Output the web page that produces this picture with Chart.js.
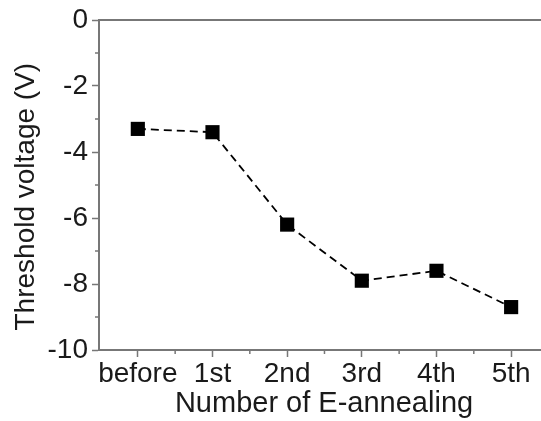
<!DOCTYPE html>
<html lang="en">
<head>
  <meta charset="UTF-8" />
  <title>Threshold voltage vs E-annealing</title>
  <script src="https://cdn.jsdelivr.net/npm/chart.js"></script>
  <style>
    html, body {
      margin: 0;
      padding: 0;
      background: #fff;
      overflow: hidden;
    }
    #wrap {
      width: 541px;
      height: 421px;
    }
  </style>
</head>
<body>
  <div id="wrap"><canvas id="chart" width="541" height="421"></canvas></div>

  <script>
    const steps = ["before", "1st", "2nd", "3rd", "4th", "5th"];
    const voltage = [-3.3, -3.4, -6.2, -7.9, -7.6, -8.7];
    const yTicks = [0, -2, -4, -6, -8, -10];

    const axisColor = "#777";
    const textColor = "#1a1a1a";
    const font = "'Liberation Sans', Arial, sans-serif";

    // minor ticks halfway between the major ones, plus the top frame line
    const frameTicks = {
      id: "frameTicks",
      afterDraw(chart) {
        const ctx = chart.ctx;
        const area = chart.chartArea;
        const x = chart.scales.x;
        const y = chart.scales.y;
        ctx.save();
        ctx.strokeStyle = axisColor;
        ctx.lineWidth = 1.5;
        ctx.beginPath();
        for (let i = 0; i < steps.length; i++) {
          const px = x.getPixelForValue(i + 0.5);
          if (px < area.right) {
            ctx.moveTo(px, area.bottom);
            ctx.lineTo(px, area.bottom + 4);
          }
        }
        for (let v = -1; v > -10; v -= 2) {
          const py = y.getPixelForValue(v);
          ctx.moveTo(area.left, py);
          ctx.lineTo(area.left - 4, py);
        }
        ctx.stroke();
        ctx.lineWidth = 2;
        ctx.beginPath();
        ctx.moveTo(area.left, area.top);
        ctx.lineTo(area.right, area.top);
        ctx.stroke();
        ctx.restore();
      }
    };

    new Chart(document.getElementById("chart"), {
      type: "line",
      data: {
        datasets: [{
          data: voltage.map((v, i) => ({ x: i, y: v })),
          borderColor: "#000",
          borderWidth: 1.8,
          borderDash: [8, 5],
          backgroundColor: "#000",
          pointStyle: "rect",
          pointRadius: 10,
          pointBorderWidth: 0,
          tension: 0
        }]
      },
      options: {
        responsive: false,
        animation: false,
        layout: { autoPadding: false, padding: { top: 20, right: 0, left: 0, bottom: 0 } },
        plugins: {
          legend: { display: false },
          tooltip: { enabled: false }
        },
        scales: {
          x: {
            type: "linear",
            min: -0.52,
            max: 5.4,
            afterBuildTicks: (scale) => {
              scale.ticks = steps.map((s, i) => ({ value: i }));
            },
            afterFit: (scale) => {
              scale.height = 71;
              // plot runs right up to the canvas edge
              scale.paddingLeft = 0;
              scale.paddingRight = 0;
            },
            border: { color: axisColor, width: 2 },
            grid: {
              drawOnChartArea: false,
              drawTicks: true,
              tickLength: 7,
              tickColor: axisColor,
              tickWidth: 1.5
            },
            ticks: {
              color: textColor,
              font: { family: font, size: 28, lineHeight: 1 },
              padding: 3,
              maxRotation: 0,
              autoSkip: false,
              callback: (v) => steps[v]
            },
            title: {
              display: true,
              text: " Number of E-annealing",
              color: textColor,
              font: { family: font, size: 29, lineHeight: 1 },
              padding: { top: 0, bottom: 3 }
            }
          },
          y: {
            min: -10,
            max: 0,
            afterBuildTicks: (scale) => {
              scale.ticks = yTicks.map(v => ({ value: v }));
            },
            afterFit: (scale) => { scale.width = 99; },
            border: { color: axisColor, width: 2 },
            grid: {
              drawOnChartArea: false,
              drawTicks: true,
              tickLength: 7,
              tickColor: axisColor,
              tickWidth: 1.5
            },
            ticks: {
              color: textColor,
              font: { family: font, size: 28, lineHeight: 1 },
              padding: 4,
              callback: (v) => String(v)
            },
            title: {
              display: true,
              // trailing spaces nudge the rotated title a little lower
              text: "Threshold voltage (V)   ",
              color: textColor,
              font: { family: font, size: 28, lineHeight: 1 },
              padding: { top: 12, bottom: 0 }
            }
          }
        }
      },
      plugins: [frameTicks]
    });
  </script>
</body>
</html>
